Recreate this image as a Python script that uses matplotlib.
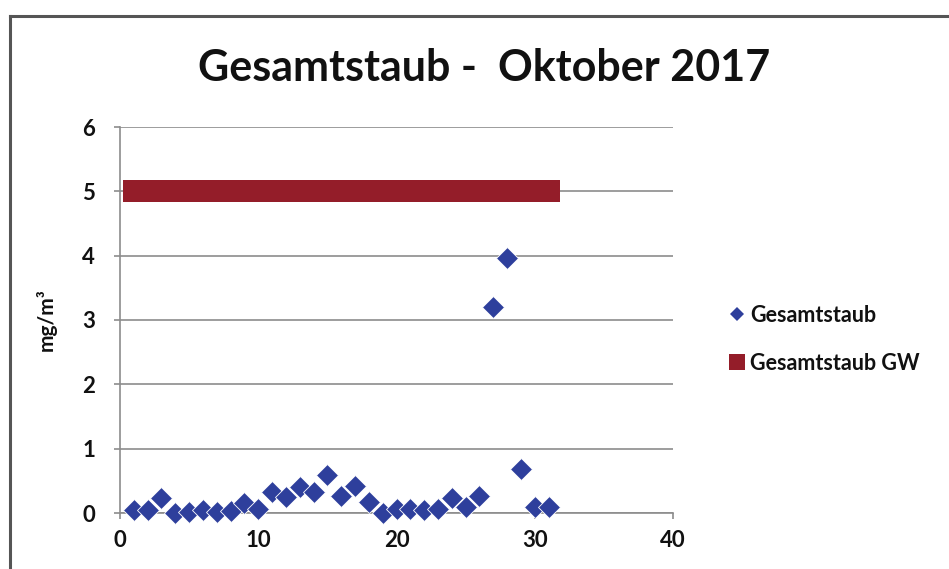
import matplotlib
matplotlib.use("Agg")
import matplotlib.pyplot as plt
from matplotlib.lines import Line2D

plt.rcParams['font.family'] = ['Lato', 'DejaVu Sans']
plt.rcParams['font.weight'] = 'bold'

title = "Gesamtstaub -  Oktober 2017"
ylabel = "mg/m³"
series_name = "Gesamtstaub"
limit_name = "Gesamtstaub GW"

days = list(range(1, 32))
staub = [0.04, 0.04, 0.23, 0.00, 0.02, 0.04, 0.01, 0.03, 0.15, 0.06,
         0.33, 0.25, 0.40, 0.33, 0.59, 0.27, 0.42, 0.17, 0.00, 0.06,
         0.06, 0.05, 0.06, 0.24, 0.09, 0.26, 3.20, 3.97, 0.68, 0.09, 0.10]
grenzwert = [5] * 31

xticks = [0, 10, 20, 30, 40]
yticks = [0, 1, 2, 3, 4, 5, 6]

blue = "#2E3F9C"
red = "#941D29"
txt = "#111111"

fig = plt.figure(figsize=(9.49, 5.69), dpi=100)
ax = fig.add_axes([120/949, 1-513/569, (673-120)/949, (513-127)/569])

ax.plot(days, grenzwert, linestyle='none', marker='s', markersize=15.2,
        color=red, markeredgewidth=0, zorder=3)
ax.plot(days, staub, linestyle='none', marker='D', markersize=11,
        color=blue, markeredgecolor='white', markeredgewidth=0.6, zorder=4, clip_on=False)

ax.set_xlim(0, 40)
ax.set_ylim(0, 6)
ax.set_xticks(xticks)
ax.set_yticks(yticks)
ax.grid(axis='y', color='#8c8c8c', linewidth=1.2)
ax.set_axisbelow(True)
for s in ['top', 'right']:
    ax.spines[s].set_visible(False)
for s in ['left', 'bottom']:
    ax.spines[s].set_color('#8c8c8c')
    ax.spines[s].set_linewidth(1.2)
ax.tick_params(axis='both', colors='#8c8c8c', length=4, width=1.2,
               labelcolor=txt, labelsize=16)
ax.tick_params(axis='y', pad=14)
ax.tick_params(axis='x', pad=8)

ax.set_ylabel(ylabel, fontsize=15, fontweight='bold', color=txt, labelpad=18)

fig.text(484/949, 1-68/569, title, ha='center', va='center',
         fontsize=31, fontweight='bold', color=txt)

handles = [
    Line2D([], [], linestyle='none', marker='D', markersize=7.5, color=blue, markeredgewidth=0),
    Line2D([], [], linestyle='none', marker='s', markersize=12, color=red, markeredgewidth=0),
]
leg = fig.legend(handles, [series_name, limit_name], loc='upper left',
                 bbox_to_anchor=(722/949, 1-296/569), frameon=False,
                 prop={'size': 15.5, 'weight': 'bold'}, handlelength=0.6,
                 handletextpad=0.3, labelspacing=1.25, borderaxespad=0)
for t in leg.get_texts():
    t.set_color(txt)

# outer frame of the chart area
fig.add_artist(Line2D([10/949, 1], [1-16/569, 1-16/569], transform=fig.transFigure,
                      color='#555555', linewidth=2.2))
fig.add_artist(Line2D([10/949, 10/949], [0, 1-16/569], transform=fig.transFigure,
                      color='#555555', linewidth=2.2))

fig.savefig("out.png", dpi=100)
